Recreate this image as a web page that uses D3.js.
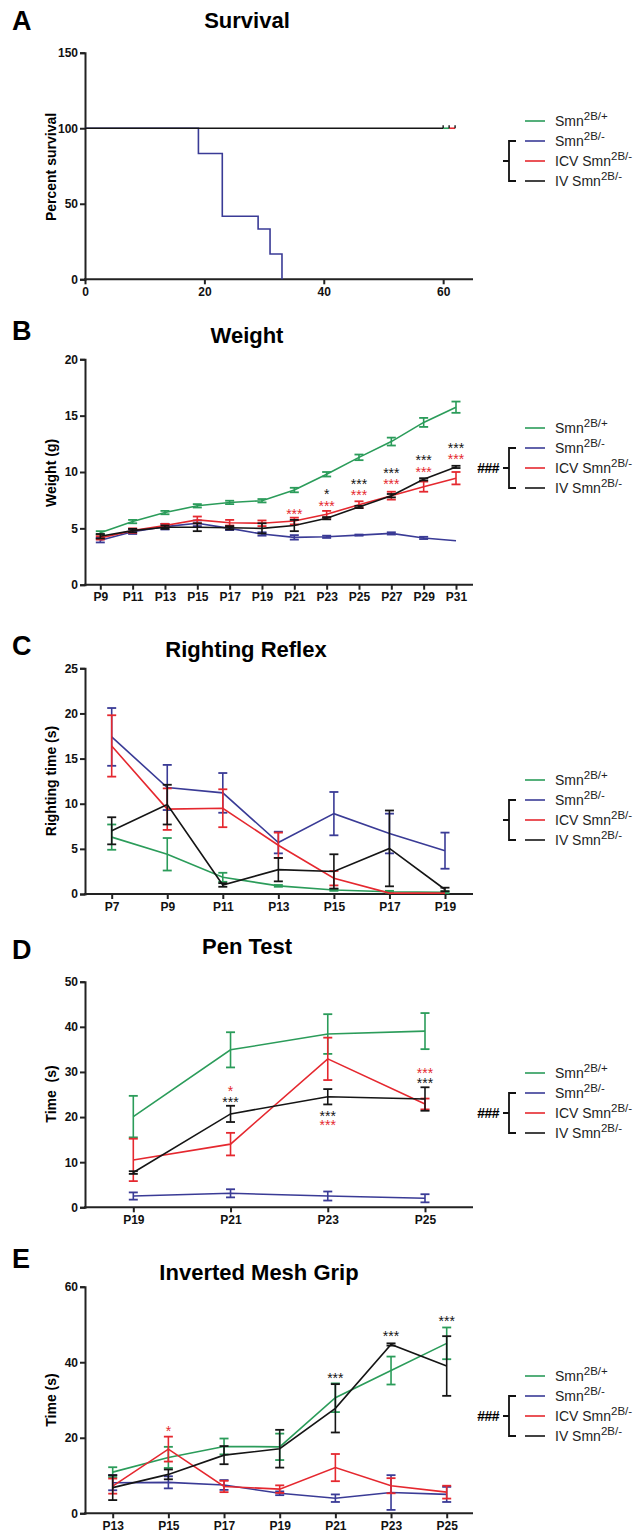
<!DOCTYPE html>
<html>
<head>
<meta charset="utf-8">
<script src="https://cdn.jsdelivr.net/npm/d3@7"></script>
<style>
  body { margin: 0; background: #fff; }
  text { font-family: Arial, "Liberation Sans", sans-serif; }
</style>
</head>
<body>
<svg id="fig" width="638" height="1534"></svg>
<script>
// ---- data ----
// A: survival (Kaplan-Meier, days)
var survHetTimes = [0, 19, 23, 29, 31, 33]
var survHetPct = [100, 83.3, 41.7, 33.3, 16.7, 0]
var survCtrlEnd = 60
var survCensor = [60, 61, 62]
var survXTicks = [0, 20, 40, 60]
var survYTicks = [0, 50, 100, 150]

// B: weight (g)
var weightDays = ["P9", "P11", "P13", "P15", "P17", "P19", "P21", "P23", "P25", "P27", "P29", "P31"]
var weightWT = [4.6, 5.6, 6.4, 7.0, 7.3, 7.45, 8.4, 9.8, 11.3, 12.7, 14.4, 15.75]
var weightWTErr = [0.15, 0.15, 0.15, 0.15, 0.15, 0.15, 0.2, 0.2, 0.25, 0.35, 0.4, 0.5]
var weightHet = [3.95, 4.7, 5.15, 5.45, 5.0, 4.5, 4.2, 4.25, 4.4, 4.55, 4.15, 3.9]
var weightHetErr = [0.2, 0.2, 0.25, 0.25, 0.15, 0.15, 0.2, 0.1, 0.05, 0.1, 0.1, 0]
var weightICV = [4.15, 4.8, 5.25, 5.75, 5.5, 5.45, 5.65, 6.25, 7.1, 7.9, 8.7, 9.45]
var weightICVErr = [0.15, 0.2, 0.15, 0.3, 0.25, 0.25, 0.3, 0.3, 0.3, 0.35, 0.45, 0.55]
var weightIV = [4.3, 4.8, 5.1, 5.1, 5.05, 5.0, 5.25, 5.9, 6.9, 7.9, 9.35, 10.45]
var weightIVErr = [0.2, 0.15, 0.15, 0.35, 0.15, 0.45, 0.5, 0.1, 0.1, 0.15, 0.1, 0.1]
var weightStarsIV = [["P23", 8.25, "*"], ["P25", 9.15, "***"], ["P27", 10.1, "***"], ["P29", 11.25, "***"], ["P31", 12.35, "***"]]
var weightStarsICV = [["P21", 6.5, "***"], ["P23", 7.2, "***"], ["P25", 8.2, "***"], ["P27", 9.15, "***"], ["P29", 10.25, "***"], ["P31", 11.35, "***"]]
var weightYTicks = [0, 5, 10, 15, 20]

// C: righting reflex (s)
var rightDays = ["P7", "P9", "P11", "P13", "P15", "P17", "P19"]
var rightWT = [6.3, 4.4, 1.85, 0.9, 0.45, 0.25, 0.2]
var rightWTErr = [1.4, 1.8, 0.5, 0.1, 0.1, 0.1, 0.1]
var rightHet = [17.4, 11.8, 11.2, 5.7, 8.9, 6.7, 4.8]
var rightHetErr = [3.2, 2.5, 2.2, 1.2, 2.4, 2.2, 2.0]
var rightICV = [16.4, 9.4, 9.5, 5.4, 1.75, 0.1, 0.1]
var rightICVErr = [3.4, 2.3, 2.1, 1.4, 0.8, 0, 0]
var rightIV = [7.0, 9.9, 1.0, 2.7, 2.5, 5.05, 0.5]
var rightIVErr = [1.5, 2.2, 0.2, 1.3, 1.9, 4.2, 0.2]
var rightYTicks = [0, 5, 10, 15, 20, 25]

// D: pen test (s)
var penDays = ["P19", "P21", "P23", "P25"]
var penWT = [20.1, 34.9, 38.4, 39.05]
var penWTErr = [4.6, 3.9, 4.4, 4.0]
var penHet = [2.5, 3.1, 2.5, 2.0]
var penHetErr = [0.8, 0.9, 1.0, 0.9]
var penICV = [10.5, 14.0, 32.9, 22.9]
var penICVErr = [4.7, 2.5, 4.7, 1.2]
var penIV = [7.7, 20.7, 24.5, 24.0]
var penIVErr = [0.3, 1.8, 1.7, 2.6]
var penStarsIV = [["P21", 24.0, "***"], ["P23", 20.8, "***"], ["P25", 28.2, "***"]]
var penStarsICV = [["P21", 26.4, "*"], ["P23", 18.8, "***"], ["P25", 30.4, "***"]]
var penYTicks = [0, 10, 20, 30, 40, 50]

// E: inverted mesh grip (s)
var gripDays = ["P13", "P15", "P17", "P19", "P21", "P23", "P25"]
var gripWT = [10.9, 14.8, 17.7, 17.6, 30.6, 37.8, 45.0]
var gripWTErr = [1.3, 2.8, 2.1, 3.5, 3.8, 3.7, 4.2]
var gripHet = [8.1, 8.2, 7.5, 5.3, 4.0, 5.5, 5.0]
var gripHetErr = [2.0, 1.6, 1.3, 0.5, 1.0, 4.6, 2.0]
var gripICV = [7.2, 17.0, 7.1, 6.4, 12.1, 7.3, 5.6]
var gripICVErr = [2.0, 3.3, 1.5, 1.0, 3.6, 2.0, 1.7]
var gripIV = [6.8, 10.3, 15.4, 17.1, 27.8, 44.7, 39.0]
var gripIVErr = [3.3, 1.3, 2.4, 5.0, 6.4, 0.3, 7.9]
var gripStarsIV = [["P21", 36.6, "***"], ["P23", 47.5, "***"], ["P25", 51.6, "***"]]
var gripStarsICV = [["P15", 22.5, "*"]]
var gripYTicks = [0, 20, 40, 60]

var legendNames = [["Smn", "2B/+"], ["Smn", "2B/-"], ["ICV Smn", "2B/-"], ["IV Smn", "2B/-"]]

// ---- drawing ----
var green = "#2b9c5a", blue = "#3a3b96", red = "#e5282f", black = "#151515"
var colors = [green, blue, red, black]
var svg = d3.select("#fig")
var axisX = 85, axisEnd = 473

function styleAxis(g) {
  g.selectAll("path, line").attr("stroke", "#222").attr("stroke-width", 2)
  g.selectAll("text").attr("font-size", 12).attr("font-weight", "bold").attr("fill", "#111")
}

function heading(letter, ly, title, tx, ty) {
  svg.append("text").attr("x", 12).attr("y", ly).attr("font-size", 27)
    .attr("font-weight", "bold").text(letter)
  svg.append("text").attr("x", tx).attr("y", ty).attr("text-anchor", "middle")
    .attr("font-size", 22).attr("font-weight", "bold").text(title)
}

function yTitle(label, cy) {
  svg.append("text").attr("transform", "translate(56," + cy + ") rotate(-90)")
    .attr("text-anchor", "middle").attr("font-size", 14).attr("font-weight", "bold")
    .attr("xml:space", "preserve").text(label)
}

function yAxis(y, ticks) {
  svg.append("g").attr("transform", "translate(" + axisX + ",0)")
    .call(d3.axisLeft(y).tickValues(ticks).tickSizeOuter(0).tickSize(5).tickPadding(2))
    .call(styleAxis)
}

function xAxisPoints(x, y0) {
  var g = svg.append("g").attr("transform", "translate(0," + y0 + ")")
    .call(d3.axisBottom(x).tickSize(5).tickPadding(3))
    .call(styleAxis)
  g.select(".domain").remove()
  svg.append("line").attr("x1", axisX - 1).attr("x2", axisEnd)
    .attr("y1", y0).attr("y2", y0).attr("stroke", "#222").attr("stroke-width", 2)
}

function seriesPlot(x, y, days, means, errs) {
  means.forEach(function(m, k) {
    var c = colors[k], e = errs[k]
    var g = svg.append("g")
    days.forEach(function(d, i) {
      if (e[i] <= 0) return
      var cx = x(d)
      g.append("line").attr("x1", cx).attr("x2", cx)
        .attr("y1", y(m[i] - e[i])).attr("y2", y(m[i] + e[i]))
        .attr("stroke", c).attr("stroke-width", 1.6)
      ;[m[i] - e[i], m[i] + e[i]].forEach(function(v) {
        g.append("line").attr("x1", cx - 4.5).attr("x2", cx + 4.5)
          .attr("y1", y(v)).attr("y2", y(v)).attr("stroke", c).attr("stroke-width", 1.8)
      })
    })
    var line = d3.line().x(function(d, i) { return x(days[i]) }).y(function(d) { return y(d) })
    g.append("path").attr("d", line(m)).attr("fill", "none")
      .attr("stroke", c).attr("stroke-width", 1.6)
  })
}

// stacked significance marks: one text per day, one tspan per comparison
function stars(x, y, listIV, listICV) {
  var marks = listIV.map(function(s) { return [s[0], s[1], s[2], black] })
    .concat(listICV.map(function(s) { return [s[0], s[1], s[2], red] }))
  var byDay = d3.group(marks, function(s) { return s[0] })
  byDay.forEach(function(list, day) {
    var t = svg.append("text").attr("text-anchor", "middle").attr("font-size", 14)
    list.forEach(function(s) {
      t.append("tspan").attr("x", x(day)).attr("y", y(s[1]) + 7.5)
        .attr("fill", s[3]).text(s[2])
    })
  })
}

function legend(top, hash) {
  var step = 20
  legendNames.forEach(function(n, i) {
    var ry = top + i * step
    svg.append("line").attr("x1", 525).attr("x2", 545).attr("y1", ry).attr("y2", ry)
      .attr("stroke", colors[i]).attr("stroke-width", 1.6)
    var t = svg.append("text").attr("x", 555).attr("y", ry + 5).attr("font-size", 14).attr("fill", "#222")
    t.append("tspan").text(n[0])
    t.append("tspan").attr("dy", -6).attr("font-size", 11.5).text(n[1])
  })
  var b0 = top + step, b1 = top + 3 * step, bm = (b0 + b1) / 2
  var p = d3.path()
  p.moveTo(516, b0); p.lineTo(509, b0); p.lineTo(509, b1); p.lineTo(516, b1)
  p.moveTo(509, bm); p.lineTo(503, bm)
  svg.append("path").attr("d", p.toString()).attr("fill", "none")
    .attr("stroke", "#111").attr("stroke-width", 1.8)
  if (hash) {
    svg.append("text").attr("x", 499).attr("y", bm + 5).attr("text-anchor", "end")
      .attr("font-size", 14).attr("font-weight", "bold").attr("letter-spacing", -0.5).text("###")
  }
}

// A: Survival
;(function() {
  heading("A", 30, "Survival", 247, 28)
  var x = d3.scaleLinear().domain([0, 65]).range([axisX, axisEnd])
  var y = d3.scaleLinear().domain([0, 150]).range([279.3, 52.7])
  yAxis(y, survYTicks)
  var g = svg.append("g").attr("transform", "translate(0,279.3)")
    .call(d3.axisBottom(x).tickValues(survXTicks).tickSize(5).tickPadding(3))
    .call(styleAxis)
  g.select(".domain").remove()
  svg.append("line").attr("x1", axisX - 1).attr("x2", axisEnd).attr("y1", 279.3).attr("y2", 279.3)
    .attr("stroke", "#222").attr("stroke-width", 2)
  yTitle("Percent survival", 167)
  var step = d3.line().curve(d3.curveStepAfter)
    .x(function(d, i) { return x(survHetTimes[i]) }).y(function(d) { return y(d) })
  svg.append("path").attr("d", step(survHetPct)).attr("fill", "none")
    .attr("stroke", blue).attr("stroke-width", 1.6)
  svg.append("line").attr("x1", x(0)).attr("x2", x(survCtrlEnd))
    .attr("y1", y(100)).attr("y2", y(100)).attr("stroke", black).attr("stroke-width", 1.6)
  svg.append("line").attr("x1", x(survCensor[0])).attr("x2", x(survCensor[1]))
    .attr("y1", y(100)).attr("y2", y(100)).attr("stroke", green).attr("stroke-width", 1.6)
  svg.append("line").attr("x1", x(survCensor[1])).attr("x2", x(survCensor[2]))
    .attr("y1", y(100)).attr("y2", y(100)).attr("stroke", red).attr("stroke-width", 1.6)
  survCensor.forEach(function(t) {
    svg.append("line").attr("x1", x(t)).attr("x2", x(t)).attr("y1", y(100)).attr("y2", y(100) - 3)
      .attr("stroke", black).attr("stroke-width", 1.4)
  })
  legend(121, false)
})()

// B: Weight
;(function() {
  heading("B", 340, "Weight", 247, 343)
  var x = d3.scalePoint().domain(weightDays).range([100.3, 456])
  var y = d3.scaleLinear().domain([0, 20]).range([584.7, 359.3])
  yAxis(y, weightYTicks)
  xAxisPoints(x, 584.7)
  yTitle("Weight (g)", 473)
  seriesPlot(x, y, weightDays, [weightWT, weightHet, weightICV, weightIV],
    [weightWTErr, weightHetErr, weightICVErr, weightIVErr])
  stars(x, y, weightStarsIV, weightStarsICV)
  legend(428, true)
})()

// C: Righting reflex
;(function() {
  heading("C", 655, "Righting Reflex", 246, 657)
  var x = d3.scalePoint().domain(rightDays).range([111.7, 445])
  var y = d3.scaleLinear().domain([0, 25]).range([894, 668.3])
  yAxis(y, rightYTicks)
  xAxisPoints(x, 894)
  yTitle("Righting time (s)", 781)
  seriesPlot(x, y, rightDays, [rightWT, rightHet, rightICV, rightIV],
    [rightWTErr, rightHetErr, rightICVErr, rightIVErr])
  legend(780, false)
})()

// D: Pen test
;(function() {
  heading("D", 959, "Pen Test", 247, 954)
  var x = d3.scalePoint().domain(penDays).range([133.3, 425])
  var y = d3.scaleLinear().domain([0, 50]).range([1207.3, 981.7])
  yAxis(y, penYTicks)
  xAxisPoints(x, 1207.3)
  yTitle("Time  (s)", 1094)
  seriesPlot(x, y, penDays, [penWT, penHet, penICV, penIV],
    [penWTErr, penHetErr, penICVErr, penIVErr])
  stars(x, y, penStarsIV, penStarsICV)
  legend(1073, true)
})()

// E: Inverted mesh grip
;(function() {
  heading("E", 1268, "Inverted Mesh Grip", 259, 1280)
  var x = d3.scalePoint().domain(gripDays).range([112.7, 446.7])
  var y = d3.scaleLinear().domain([0, 60]).range([1513.3, 1286.7])
  yAxis(y, gripYTicks)
  xAxisPoints(x, 1513.3)
  yTitle("Time (s)", 1400)
  seriesPlot(x, y, gripDays, [gripWT, gripHet, gripICV, gripIV],
    [gripWTErr, gripHetErr, gripICVErr, gripIVErr])
  stars(x, y, gripStarsIV, gripStarsICV)
  legend(1376, true)
})()
</script>
</body>
</html>
